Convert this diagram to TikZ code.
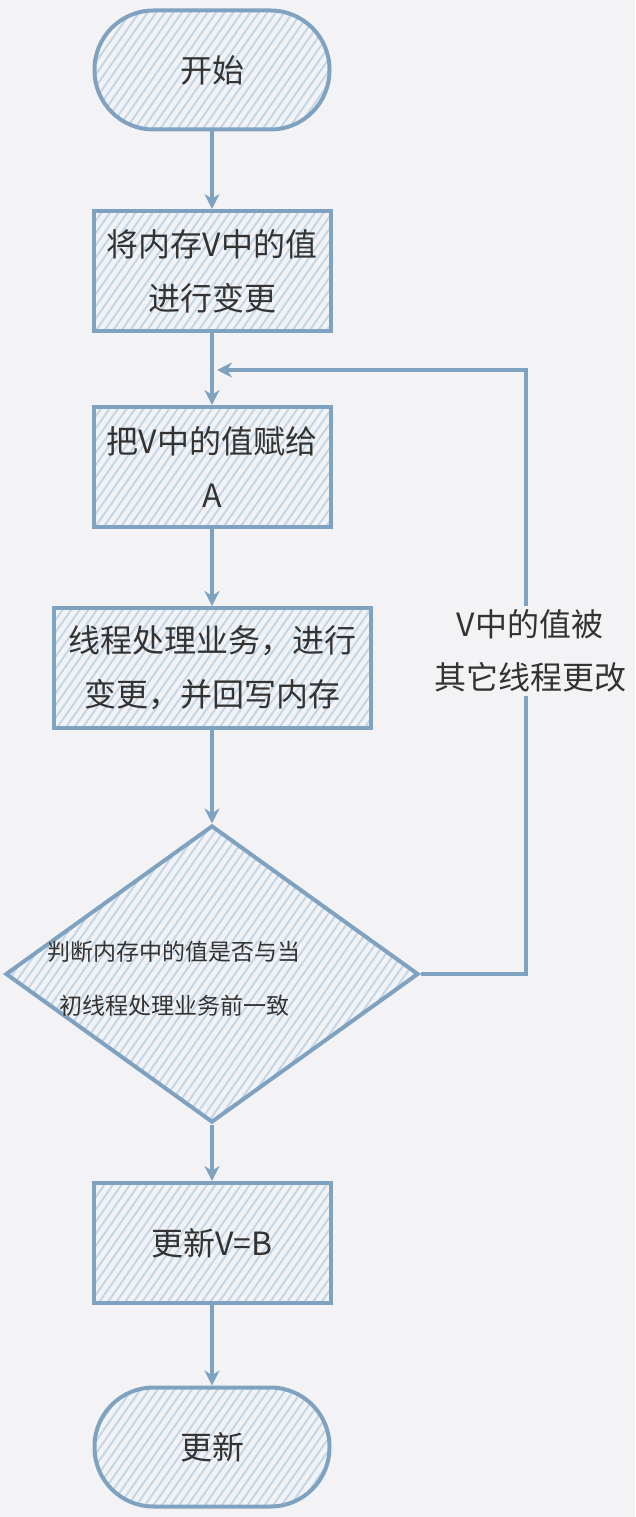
\documentclass[tikz,border=0pt]{standalone}
\usepackage{fontspec}
\setmainfont{Noto Sans CJK SC}
\usetikzlibrary{arrows.meta}
\usetikzlibrary{patterns.meta}
\usetikzlibrary{shapes.geometric}
\definecolor{mbg}{HTML}{F3F3F5}
\definecolor{mline}{HTML}{7FA2C1}
\definecolor{mhatch}{HTML}{C3D7E7}
\definecolor{mtext}{HTML}{333333}
\tikzset{
  hatched/.style={draw=mline, line width=4pt, text=mtext, align=center,
    pattern={Lines[angle=55,distance=7pt,line width=2pt]}, pattern color=mhatch,
    font=\fontsize{32}{54}\selectfont},
  terminal/.style={hatched, rectangle, rounded corners=59pt, minimum width=235pt, minimum height=119pt},
  procbox/.style={hatched, rectangle, minimum height=120pt},
  decision/.style={hatched, diamond, aspect=1.39, inner sep=0pt, minimum width=413pt,
    minimum height=297pt},
  flow/.style={draw=mline, line width=4pt, -{Stealth[length=15pt,width=15pt]}},
  judgetext/.style={text=mtext, align=center, font=\fontsize{23}{54}\selectfont},
  looplabel/.style={fill=mbg, text=mtext, align=center, font=\fontsize{32}{53}\selectfont}
}

\begin{document}
\begin{tikzpicture}[x=1pt, y=1pt]
      \useasboundingbox[fill=mbg] (0,0) rectangle (635,-1517);

      \node [terminal] (start) at (212,-70) {开始};
      \node [procbox, minimum width=237pt] (change) at (212,-271) {将内存V中的值\\进行变更};
      \node [procbox, minimum width=237pt] (assign) at (212,-467) {把V中的值赋给\\A};
      \node [procbox, minimum width=317pt] (work) at (212,-668) {线程处理业务，进行\\变更，并回写内存};
      \node [decision] (judge) at (212,-974) {};
      \node [judgetext] (judgelabel) at (174,-979) {判断内存中的值是否与当\\初线程处理业务前一致};
      \node [procbox, minimum width=237pt] (update) at (212,-1243) {更新V=B};
      \node [terminal] (stop) at (212,-1447) {更新};
      \coordinate (loopend) at (217,-370);

      \draw [flow] (start) -- (change);
      \draw [flow] (change) -- (assign);
      \draw [flow] (assign) -- (work);
      \draw [flow] (work) -- (judge);
      \draw [flow] (judge) -- (update);
      \draw [flow] (update) -- (stop);
      \draw [flow] (judge.east) -- ++(105,0) |- (loopend);
      \node [looplabel] (changed) at (530,-651) {V中的值被\\其它线程更改};
    \end{tikzpicture}
\end{document}
